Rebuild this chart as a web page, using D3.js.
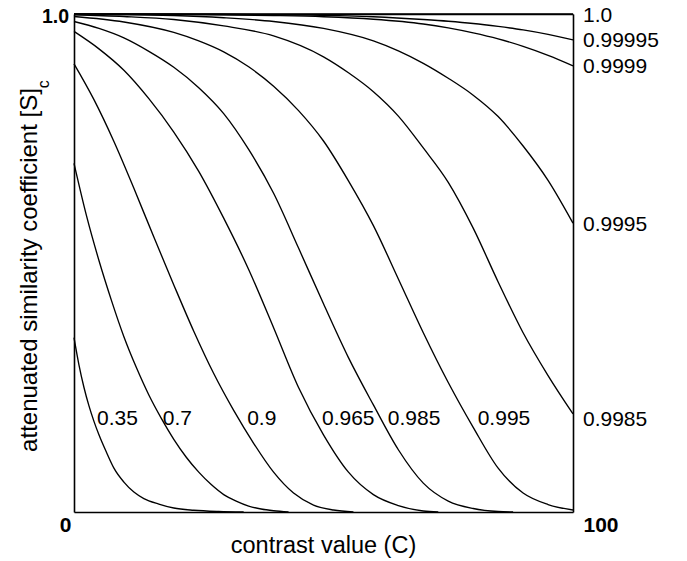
<!DOCTYPE html>
<html>
<head>
<meta charset="utf-8">
<script src="https://cdn.jsdelivr.net/npm/d3@7"></script>
<style>
  body { margin: 0; background: #fff; }
  svg { display: block; }
  text { font-family: "Liberation Sans", Arial, sans-serif; fill: #000; }
</style>
</head>
<body>
<div id="chart"></div>
<script>
// curves: [contrast C, attenuated coefficient]
var s035 = [[0,0.35],[1,0.295],[2,0.25],[3,0.213],[4,0.182],[5,0.155],[6.5,0.12],[8,0.088],[10,0.06],[12,0.04],[14,0.027],[17,0.016],[20,0.008],[24,0.0035],[29,0.001],[34,0]];
var s07 = [[0,0.70],[2.5,0.595],[5,0.505],[7.5,0.425],[10,0.352],[12.5,0.29],[15,0.235],[17.5,0.188],[20,0.146],[22.5,0.11],[25,0.08],[27.5,0.055],[30,0.035],[32.5,0.022],[35,0.012],[37.5,0.006],[40,0.0025],[43,0]];
var s09 = [[0,0.90],[4,0.828],[8,0.744],[12,0.65],[16,0.552],[20,0.456],[24,0.363],[28,0.278],[32,0.204],[36,0.138],[40,0.08],[44,0.038],[48,0.014],[52,0.004],[56,0]];
var s0965 = [[0,0.965],[5,0.93],[10,0.887],[15,0.83],[20,0.763],[25,0.684],[30,0.59],[35,0.487],[40,0.37],[45,0.25],[50,0.155],[55,0.08],[60,0.035],[65,0.013],[70,0.002],[73,0]];
var s0985 = [[0,0.985],[5,0.971],[10,0.952],[15,0.925],[20,0.893],[25,0.852],[30,0.80],[35,0.728],[40,0.64],[45,0.53],[50,0.418],[55,0.31],[60,0.215],[65,0.125],[70,0.058],[75,0.022],[80,0.007],[85,0.001],[88,0]];
var s0995 = [[0,0.995],[10,0.984],[20,0.963],[25,0.946],[30,0.924],[35,0.894],[40,0.855],[45,0.806],[50,0.745],[55,0.665],[60,0.575],[65,0.468],[70,0.36],[75,0.26],[80,0.17],[85,0.088],[90,0.038],[95,0.015],[100,0.004]];
var s09985 = [[0,0.9985],[10,0.995],[20,0.989],[30,0.976],[40,0.956],[50,0.914],[55,0.882],[60,0.844],[65,0.795],[70,0.731],[75,0.662],[80,0.57],[85,0.462],[90,0.36],[95,0.274],[100,0.197]];
var s09995 = [[0,0.9995],[10,0.999],[20,0.997],[30,0.9925],[40,0.985],[50,0.971],[60,0.946],[65,0.926],[70,0.901],[75,0.871],[80,0.837],[85,0.794],[90,0.735],[95,0.666],[100,0.58]];
var s09999 = [[0,0.9999],[20,0.9992],[40,0.997],[50,0.9945],[60,0.9895],[70,0.98],[75,0.972],[80,0.962],[85,0.95],[90,0.935],[95,0.917],[100,0.896]];
var s099995 = [[0,0.99995],[30,0.9995],[45,0.998],[60,0.9945],[70,0.989],[75,0.9855],[80,0.981],[85,0.975],[90,0.968],[95,0.959],[100,0.948]];
var s10 = [[0,1],[100,1]];

var allSeries = [s035, s07, s09, s0965, s0985, s0995, s09985, s09995, s09999, s099995, s10];

// labels written inside the plot, in one row, and the C where each one starts
var innerNames = ["0.35", "0.7", "0.9", "0.965", "0.985", "0.995"];
var innerAtC = [4.6, 17.8, 34.7, 49.7, 62.9, 80.9];
var innerRowValue = 0.19;

// labels on the right side, at the end of their curves
var endNames = ["1.0", "0.99995", "0.9999", "0.9995"];
var endSeries = [s10, s099995, s09999, s09995];
var rowEndName = "0.9985";

var xTicks = [0, 100];
var yTicks = [1];

var width = 687, height = 561;
var margin = {top: 14, right: 114, bottom: 49, left: 74};

var svg = d3.select("#chart").append("svg")
    .attr("width", width)
    .attr("height", height);

var x = d3.scaleLinear()
    .domain([0, 100])
    .range([margin.left, width - margin.right]);

var y = d3.scaleLinear()
    .domain([0, 1])
    .range([height - margin.bottom, margin.top]);

var line = d3.line()
    .x(function(d) { return x(d[0]); })
    .y(function(d) { return y(d[1]); })
    .curve(d3.curveMonotoneX);

svg.append("g")
    .selectAll("path")
    .data(allSeries)
    .enter().append("path")
    .attr("d", line)
    .attr("fill", "none")
    .attr("stroke", "#000")
    .attr("stroke-width", 1.35);

// frame
var xAxis = svg.append("g")
    .attr("transform", "translate(0," + y(0) + ")")
    .call(d3.axisBottom(x).tickValues(xTicks).tickSize(0).tickSizeOuter(0).tickFormat(d3.format("d")));

svg.append("g")
    .attr("transform", "translate(0," + y(1) + ")")
    .call(d3.axisTop(x).tickValues([]).tickSizeOuter(0));

var yAxis = svg.append("g")
    .attr("transform", "translate(" + x(0) + ",0)")
    .call(d3.axisLeft(y).tickValues(yTicks).tickSize(0).tickSizeOuter(0).tickFormat(d3.format(".1f")));

svg.append("g")
    .attr("transform", "translate(" + x(100) + ",0)")
    .call(d3.axisRight(y).tickValues([]).tickSizeOuter(0));

svg.selectAll(".domain")
    .attr("stroke", "#000")
    .attr("stroke-width", 1.6);

xAxis.selectAll(".tick text")
    .attr("font-size", 21)
    .attr("font-weight", "bold")
    .attr("font-family", null)
    .attr("fill", "#000")
    .attr("y", 20)
    .attr("dy", null)
    .attr("text-anchor", function(d) { return d === 0 ? "end" : "start"; })
    .attr("dx", function(d) { return d === 0 ? -3 : 10; });

yAxis.selectAll(".tick text")
    .attr("font-size", 19.5)
    .attr("font-weight", "bold")
    .attr("font-family", null)
    .attr("fill", "#000")
    .attr("x", -5)
    .attr("dy", "0.43em");

// labels inside
svg.append("g")
    .selectAll("text")
    .data(innerNames)
    .enter().append("text")
    .attr("x", function(d, i) { return x(innerAtC[i]); })
    .attr("y", y(innerRowValue))
    .attr("dy", "0.36em")
    .attr("font-size", 21)
    .text(function(d) { return d; });

// labels on the right
svg.append("g")
    .selectAll("text")
    .data(endNames)
    .enter().append("text")
    .attr("x", x(100) + 10)
    .attr("y", function(d, i) { var s = endSeries[i]; return y(s[s.length - 1][1]); })
    .attr("dy", "0.36em")
    .attr("font-size", 21)
    .text(function(d) { return d; });

svg.append("text")
    .attr("x", x(100) + 10)
    .attr("y", y(innerRowValue))
    .attr("dy", "0.42em")
    .attr("font-size", 21)
    .text(rowEndName);

// axis titles
svg.append("text")
    .attr("x", (x(0) + x(100)) / 2)
    .attr("y", 553)
    .attr("text-anchor", "middle")
    .attr("font-size", 23.5)
    .text("contrast value (C)");

var yTitle = svg.append("text")
    .attr("transform", "translate(37,266) rotate(-90)")
    .attr("text-anchor", "middle")
    .attr("font-size", 24);
yTitle.append("tspan").text("attenuated similarity coefficient [S]");
yTitle.append("tspan").attr("font-size", 16).attr("dy", 12).text("c");
</script>
</body>
</html>
